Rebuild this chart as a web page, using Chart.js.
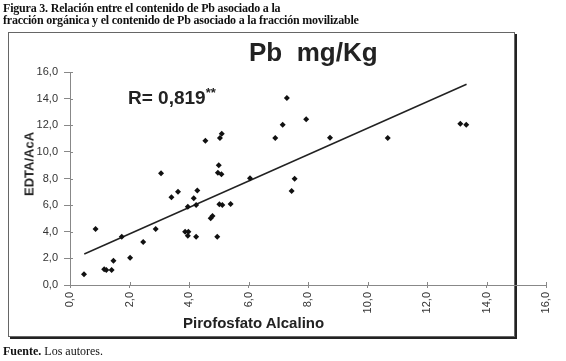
<!DOCTYPE html>
<html>
<head>
<meta charset="utf-8">
<script src="https://cdn.jsdelivr.net/npm/chart.js@4.4.1/dist/chart.umd.min.js"></script>
<style>
  body { margin: 0; background: #fff; }
  #wrap { position: relative; width: 566px; height: 361px; overflow: hidden; }
  #frame { position: absolute; left: 8px; top: 32px; width: 505px; height: 303px;
           border: 1px solid #666; box-shadow: 2px 2px 0 #222; }
  canvas { position: absolute; left: 0; top: 0; }
  .cap { position: absolute; left: 3px; font-family: "Liberation Serif", serif; font-size: 12px;
         font-weight: bold; color: #111; white-space: nowrap; letter-spacing: -0.2px; }
  .txt { position: absolute; font-family: "Liberation Sans", Arial, sans-serif; color: #222;
         white-space: pre; font-weight: bold; }
</style>
</head>
<body>
<div id="wrap">
  <div id="frame"></div>
  <canvas id="myChart" width="566" height="361"></canvas>
  <div class="cap" style="top:1px">Figura 3. Relación entre el contenido de Pb asociado a la</div>
  <div class="cap" style="top:13px">fracción orgánica y el contenido de Pb asociado a la fracción movilizable</div>
  <div class="txt" style="left:249px; top:37px; font-size:26px;">Pb  mg/Kg</div>
  <div class="txt" style="left:128px; top:85px; font-size:19px;">R= 0,819<sup style="font-size:13px">**</sup></div>
  <div class="txt" style="left:183px; top:314px; font-size:15px;">Pirofosfato Alcalino</div>
  <div class="txt" style="left:29px; top:164px; font-size:13px; transform: translate(-50%,-50%) rotate(-90deg);">EDTA/AcA</div>
  <div class="cap" style="top:344px; font-weight:normal; letter-spacing:0"><b>Fuente.</b> Los autores.</div>
</div>
<script>
	// valores
	var pirofosfato = [0.47,0.86,1.15,1.22,1.40,1.46,1.74,2.02,2.46,2.88,3.06,3.41,3.63,3.87,3.98,3.96,3.96,4.16,4.24,4.28,4.24,4.55,4.73,4.79,4.95,5.00,4.97,5.09,5.04,5.10,5.02,5.12,5.40,6.05,6.90,7.15,7.29,7.55,7.45,7.94,8.74,10.68,13.12,13.32];
	var edta = [0.80,4.20,1.18,1.13,1.13,1.83,3.63,2.05,3.23,4.20,8.39,6.59,7.01,4.00,4.00,3.70,5.88,6.51,6.01,7.09,3.63,10.84,5.01,5.18,3.63,8.99,8.44,8.31,11.04,11.37,6.06,6.01,6.09,8.01,11.04,12.04,14.05,7.99,7.06,12.45,11.07,11.04,12.12,12.04];
	var trendX = [0.48, 13.33];
	var trendY = [2.33, 15.08];
	var tickValues = [0,2,4,6,8,10,12,14,16];

	var puntos = pirofosfato.map(function(v, i){ return {x: v, y: edta[i]}; });
	var linea = trendX.map(function(v, i){ return {x: v, y: trendY[i]}; });

	function coma(v){ return v.toFixed(1).replace('.', ','); }

	// marcas de tick hacia dentro del area (cruzan el eje)
	var innerTicks = {
	    id: 'innerTicks',
	    afterDraw: function(chart){
	        var ctx = chart.ctx, a = chart.chartArea;
	        ctx.save();
	        ctx.strokeStyle = '#888';
	        ctx.lineWidth = 1;
	        ctx.beginPath();
	        chart.scales.x.ticks.forEach(function(t){
	            var px = Math.round(chart.scales.x.getPixelForValue(t.value)) + 0.5;
	            ctx.moveTo(px, a.bottom); ctx.lineTo(px, a.bottom - 3);
	        });
	        chart.scales.y.ticks.forEach(function(t){
	            var py = Math.round(chart.scales.y.getPixelForValue(t.value)) + 0.5;
	            ctx.moveTo(a.left, py); ctx.lineTo(a.left + 3, py);
	        });
	        ctx.stroke();
	        ctx.restore();
	    }
	};

	var ctx = document.getElementById("myChart");

	var myChart = new Chart(ctx, {
	    type: 'scatter',
	    data: {
	        datasets: [{
	            data: puntos,
	            pointStyle: 'rectRot',
	            pointRadius: 3,
	            backgroundColor: '#111',
	            borderColor: '#111',
	            borderWidth: 0
	        }, {
	            type: 'line',
	            data: linea,
	            borderColor: '#222',
	            borderWidth: 1.5,
	            pointRadius: 0,
	            fill: false
	        }]
	    },
	    plugins: [innerTicks],
	    options: {
	        responsive: false,
	        animation: false,
	        layout: { padding: { left: 20, right: 20, top: 72, bottom: 46 } },
	        plugins: { legend: { display: false }, tooltip: { enabled: false } },
	        scales: {
	            x: {
	                type: 'linear', min: 0, max: 16,
	                afterFit: function(s){ s.height = 30; },
	                afterBuildTicks: function(s){ s.ticks = tickValues.map(function(v){ return {value: v}; }); },
	                grid: { drawOnChartArea: false, tickLength: 3, color: '#888' },
	                border: { color: '#888' },
	                ticks: { minRotation: 90, maxRotation: 90, padding: 4, color: '#333',
	                         font: { family: 'Liberation Sans', size: 11 }, callback: coma }
	            },
	            y: {
	                type: 'linear', min: 0, max: 16,
	                afterFit: function(s){ s.width = 50; },
	                afterBuildTicks: function(s){ s.ticks = tickValues.map(function(v){ return {value: v}; }); },
	                grid: { drawOnChartArea: false, tickLength: 6, color: '#888' },
	                border: { color: '#888' },
	                ticks: { padding: 6, color: '#333',
	                         font: { family: 'Liberation Sans', size: 11 }, callback: coma }
	            }
	        }
	    }
	});
</script>
</body>
</html>
